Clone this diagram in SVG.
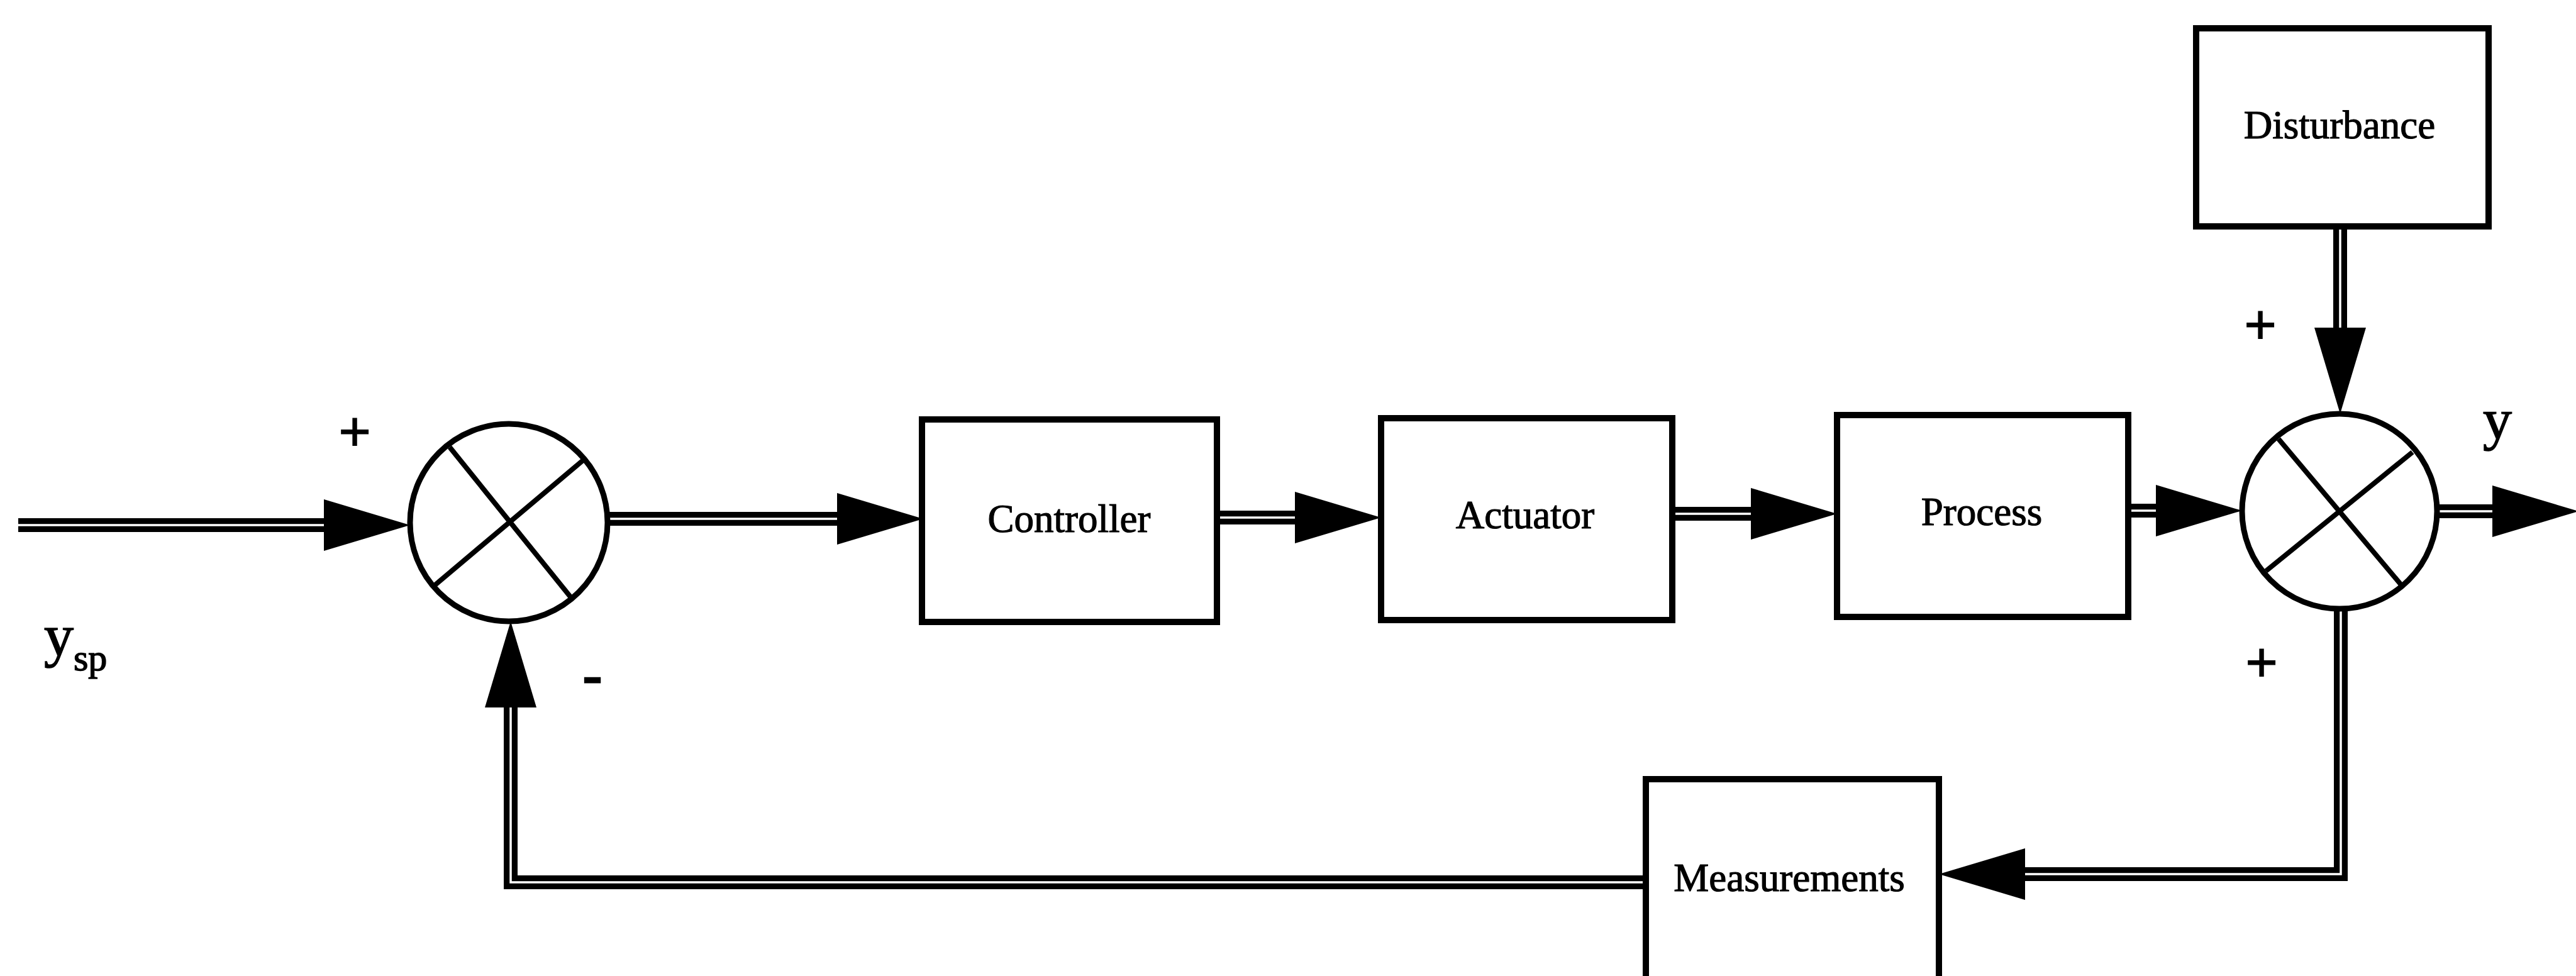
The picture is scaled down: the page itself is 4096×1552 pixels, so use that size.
<svg xmlns="http://www.w3.org/2000/svg" xmlns:xlink="http://www.w3.org/1999/xlink" width="4096" height="1552" viewBox="0 0 4096 1552">
<style>
.box{fill:#fff;stroke:#000;stroke-width:10}
.sum{fill:#fff;stroke:#000;stroke-width:9}
.cross{stroke:#000;stroke-width:8;fill:none}
.wire{fill:none;stroke:#000;stroke-width:22;stroke-linejoin:miter}
.gap{fill:none;stroke:#fff;stroke-width:3.5;stroke-linejoin:miter}
.lbl{font-family:"Liberation Serif","Times New Roman",serif;font-size:63px;fill:#000;stroke:#000;stroke-width:1.2;text-anchor:middle}
.sign{font-family:"Liberation Serif","Times New Roman",serif;fill:#000;stroke:#000;stroke-width:3;text-anchor:middle}
.var{font-family:"Liberation Serif","Times New Roman",serif;fill:#000;stroke:#000;stroke-width:1.5}
</style>
<defs>
<path id="ah" d="M0,0 L-137,-41 L-137,41 Z" fill="#000"/>
</defs>
<rect width="4096" height="1552" fill="#fff"/>

<g id="connectors">
<g id="c-input"><path class="wire" d="M29,835 H520"/><path class="gap" d="M29,835 H515"/><use xlink:href="#ah" transform="translate(652,835)"/></g>
<g id="c-sum1-controller"><path class="wire" d="M962,825 H1336"/><path class="gap" d="M966,825 H1331"/><use xlink:href="#ah" transform="translate(1468,825)"/></g>
<g id="c-controller-actuator"><path class="wire" d="M1936,823 H2064"/><path class="gap" d="M1940,823 H2059"/><use xlink:href="#ah" transform="translate(2196,823)"/></g>
<g id="c-actuator-process"><path class="wire" d="M2659,817 H2789"/><path class="gap" d="M2663,817 H2784"/><use xlink:href="#ah" transform="translate(2921,817)"/></g>
<g id="c-process-sum2"><path class="wire" d="M3384,812 H3433"/><path class="gap" d="M3388,812 H3428"/><use xlink:href="#ah" transform="translate(3565,812)"/></g>
<g id="c-sum2-out"><path class="wire" d="M3871,813 H3972"/><path class="gap" d="M3875,813 H3967"/><use xlink:href="#ah" transform="translate(4100,813)"/></g>
<g id="c-disturbance-sum2"><path class="wire" d="M3721,360 V526"/><path class="gap" d="M3721,364 V521"/><use xlink:href="#ah" transform="translate(3721,658) rotate(90)"/></g>
<g id="c-sum2-measurements"><path class="wire" d="M3722,964 V1390 H3215"/><path class="gap" d="M3722,968 V1390 H3220"/><use xlink:href="#ah" transform="translate(3083,1390) rotate(180)"/></g>
<g id="c-measurements-sum1"><path class="wire" d="M2617,1403 H812 V1113"/><path class="gap" d="M2613,1403 H812 V1118"/><use xlink:href="#ah" transform="translate(812,988) rotate(-90)"/></g>
</g>

<g id="sum1">
<circle class="sum" cx="809" cy="831" r="157"/>
<line class="cross" x1="715" y1="711" x2="911" y2="954"/>
<line class="cross" x1="692" y1="930" x2="927" y2="732"/>
</g>

<g id="sum2">
<circle class="sum" cx="3720" cy="813" r="155"/>
<line class="cross" x1="3623" y1="698" x2="3818" y2="930"/>
<line class="cross" x1="3603" y1="908" x2="3836" y2="719"/>
</g>

<g id="controller">
<rect class="box" x="1466" y="667" width="469" height="322"/>
<text class="lbl" x="1700" y="846">Controller</text>
</g>

<g id="actuator">
<rect class="box" x="2196" y="665" width="463" height="321"/>
<text class="lbl" x="2425" y="840">Actuator</text>
</g>

<g id="process">
<rect class="box" x="2921" y="660" width="463" height="321"/>
<text class="lbl" x="3151" y="835">Process</text>
</g>

<g id="disturbance">
<rect class="box" x="3492" y="45" width="465" height="315"/>
<text class="lbl" x="3720" y="220">Disturbance</text>
</g>

<g id="measurements">
<rect class="box" x="2617" y="1239" width="466" height="345"/>
<text class="lbl" x="2845" y="1417">Measurements</text>
</g>

<g id="labels">
<text class="sign" x="564" y="716" font-size="88">+</text>
<text class="sign" x="942" y="1103" font-size="90">-</text>
<text class="sign" x="3594" y="546" font-size="88">+</text>
<text class="sign" x="3596" y="1083" font-size="88">+</text>
<text class="var" x="3971" y="698" font-size="92" text-anchor="middle">y</text>
<text class="var" x="70" y="1042" font-size="94">y<tspan font-size="60" dy="24">sp</tspan></text>
</g>
</svg>
